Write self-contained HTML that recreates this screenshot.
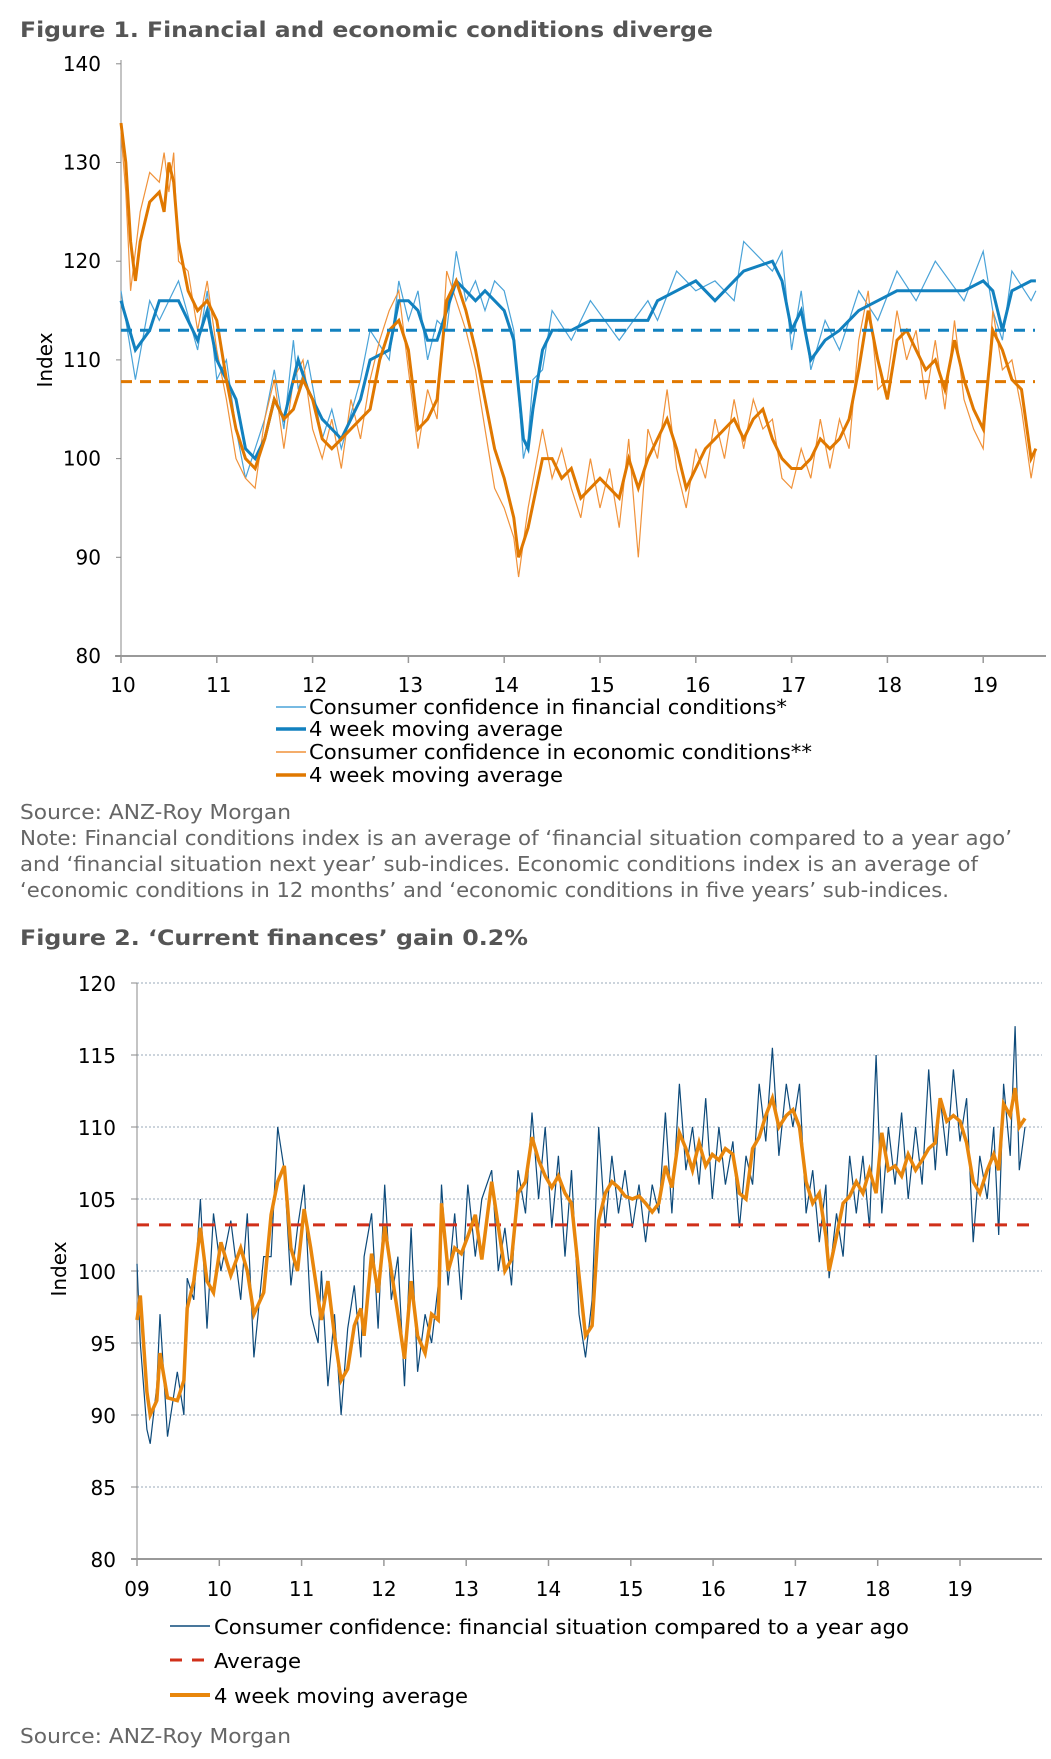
<!DOCTYPE html>
<html><head><meta charset="utf-8"><style>
html,body{margin:0;padding:0;background:#fff;}
svg{display:block;font-family:"DejaVu Sans","Liberation Sans",sans-serif;}
.t{font-weight:bold;fill:#555;font-size:21px;}
.tk{font-size:20px;fill:#000;}
.lg{font-size:20px;fill:#000;}
.src{font-size:20px;fill:#666;}
</style></head><body>
<svg id="page" width="1051" height="1759" viewBox="0 0 1051 1759" xmlns="http://www.w3.org/2000/svg">
<text class="t" x="20" y="37" textLength="693" lengthAdjust="spacingAndGlyphs">Figure 1. Financial and economic conditions diverge</text>
<g id="f1"></g>
<g>
<line x1="276" y1="707" x2="306" y2="707" stroke="#4aa3d8" stroke-width="1.5"/>
<text class="lg" x="309" y="714" textLength="478" lengthAdjust="spacingAndGlyphs">Consumer confidence in financial conditions*</text>
<line x1="276" y1="729" x2="306" y2="729" stroke="#1281bf" stroke-width="3.5"/>
<text class="lg" x="309" y="736" textLength="254" lengthAdjust="spacingAndGlyphs">4 week moving average</text>
<line x1="276" y1="752" x2="306" y2="752" stroke="#f0923a" stroke-width="1.5"/>
<text class="lg" x="309" y="759" textLength="503" lengthAdjust="spacingAndGlyphs">Consumer confidence in economic conditions**</text>
<line x1="276" y1="775" x2="306" y2="775" stroke="#e07800" stroke-width="3.5"/>
<text class="lg" x="309" y="782" textLength="254" lengthAdjust="spacingAndGlyphs">4 week moving average</text>
</g>
<text class="src" x="20" y="819" textLength="271" lengthAdjust="spacingAndGlyphs">Source: ANZ-Roy Morgan</text>
<text class="src" x="20" y="845" textLength="992" lengthAdjust="spacingAndGlyphs">Note: Financial conditions index is an average of ‘financial situation compared to a year ago’</text>
<text class="src" x="20" y="871" textLength="958" lengthAdjust="spacingAndGlyphs">and ‘financial situation next year’ sub-indices. Economic conditions index is an average of</text>
<text class="src" x="20" y="897" textLength="929" lengthAdjust="spacingAndGlyphs">‘economic conditions in 12 months’ and ‘economic conditions in five years’ sub-indices.</text>

<text class="t" x="20" y="945" textLength="508" lengthAdjust="spacingAndGlyphs">Figure 2. ‘Current finances’ gain 0.2%</text>
<g id="f2"></g>
<g>
<line x1="170" y1="1626" x2="210" y2="1626" stroke="#0d4a7a" stroke-width="1.5"/>
<text class="lg" x="214" y="1634" textLength="695" lengthAdjust="spacingAndGlyphs">Consumer confidence: financial situation compared to a year ago</text>
<line x1="170" y1="1660" x2="210" y2="1660" stroke="#d0301a" stroke-width="3" stroke-dasharray="12,10"/>
<text class="lg" x="214" y="1668" textLength="87" lengthAdjust="spacingAndGlyphs">Average</text>
<line x1="170" y1="1695" x2="210" y2="1695" stroke="#e8860c" stroke-width="4"/>
<text class="lg" x="214" y="1703" textLength="254" lengthAdjust="spacingAndGlyphs">4 week moving average</text>
</g>
<text class="src" x="20" y="1743" textLength="271" lengthAdjust="spacingAndGlyphs">Source: ANZ-Roy Morgan</text>
</svg>
<script>
// ---- Figure 1 data ----
const f1Years = [10,11,12,13,14,15,16,17,18,19];
const f1YTicks = [80,90,100,110,120,130,140];
const finDates = [10.0,10.15,10.3,10.4,10.6,10.8,10.9,11.0,11.1,11.2,11.3,11.4,11.5,11.6,11.7,11.8,11.85,11.95,12.1,12.2,12.3,12.5,12.6,12.8,12.9,13.0,13.1,13.2,13.3,13.4,13.5,13.6,13.7,13.8,13.9,14.0,14.1,14.2,14.25,14.3,14.4,14.5,14.7,14.9,15.2,15.5,15.6,15.8,16.0,16.2,16.4,16.5,16.8,16.9,17.0,17.1,17.2,17.35,17.5,17.7,17.9,18.1,18.3,18.5,18.8,19.0,19.1,19.2,19.3,19.5,19.55];
const finMA = [116,111,113,116,116,112,115,110,108,106,101,100,102,106,104,108,110,107,104,103,102,106,110,111,116,116,115,112,112,115,118,117,116,117,116,115,112,102,101,105,111,113,113,114,114,114,116,117,118,116,118,119,120,118,113,115,110,112,113,115,116,117,117,117,117,118,117,113,117,118,118];
const finRaw = [117,108,116,114,118,111,117,108,110,103,98,101,104,109,103,112,107,110,102,105,101,108,113,110,118,114,117,110,114,113,121,116,118,115,118,117,113,100,102,108,109,115,112,116,112,116,114,119,117,118,116,122,119,121,111,117,109,114,111,117,114,119,116,120,116,121,115,112,119,116,117];
const ecoDates = [10.0,10.05,10.1,10.15,10.2,10.3,10.4,10.45,10.5,10.55,10.6,10.7,10.8,10.9,11.0,11.1,11.2,11.3,11.4,11.5,11.6,11.7,11.8,11.9,12.0,12.1,12.2,12.3,12.4,12.5,12.6,12.7,12.8,12.9,13.0,13.1,13.2,13.3,13.4,13.5,13.6,13.7,13.8,13.9,14.0,14.1,14.15,14.25,14.4,14.5,14.6,14.7,14.8,14.9,15.0,15.1,15.2,15.3,15.4,15.5,15.6,15.7,15.8,15.9,16.0,16.1,16.2,16.3,16.4,16.5,16.6,16.7,16.8,16.9,17.0,17.1,17.2,17.3,17.4,17.5,17.6,17.7,17.8,17.9,18.0,18.1,18.2,18.3,18.4,18.5,18.6,18.7,18.8,18.9,19.0,19.1,19.2,19.3,19.4,19.5,19.55];
const ecoMA = [134,130,122,118,122,126,127,125,130,128,122,117,115,116,114,108,103,100,99,102,106,104,105,108,106,102,101,102,103,104,105,110,113,114,111,103,104,106,116,118,115,111,106,101,98,94,90,93,100,100,98,99,96,97,98,97,96,100,97,100,102,104,101,97,99,101,102,103,104,102,104,105,102,100,99,99,100,102,101,102,104,109,115,110,106,112,113,111,109,110,107,112,108,105,103,113,111,108,107,100,101];
const ecoRaw = [133,127,117,121,125,129,128,131,127,131,120,119,113,118,111,106,100,98,97,104,108,101,108,110,103,100,104,99,106,102,108,112,115,117,109,101,107,104,119,116,113,109,103,97,95,92,88,95,103,98,101,97,94,100,95,99,93,102,90,103,100,107,99,95,101,98,104,100,106,101,106,103,104,98,97,101,98,104,99,104,101,112,117,107,108,115,110,113,106,112,105,114,106,103,101,115,109,110,105,98,101];
const finAvg = [113];
const ecoAvg = [107.8];

// ---- Figure 2 data ----
const f2Years = ["09","10","11","12","13","14","15","16","17","18","19"];
const f2YTicks = [80,85,90,95,100,105,110,115,120];
const curDates = [9.00,9.04,9.12,9.16,9.24,9.28,9.37,9.49,9.57,9.61,9.69,9.77,9.85,9.93,10.02,10.14,10.26,10.34,10.42,10.54,10.63,10.71,10.79,10.87,10.95,11.03,11.11,11.20,11.24,11.32,11.40,11.48,11.56,11.64,11.72,11.76,11.85,11.93,12.01,12.09,12.17,12.25,12.33,12.41,12.50,12.58,12.66,12.70,12.78,12.86,12.94,13.02,13.11,13.19,13.31,13.39,13.47,13.55,13.63,13.72,13.80,13.88,13.96,14.04,14.12,14.20,14.28,14.37,14.45,14.53,14.61,14.69,14.77,14.85,14.93,15.02,15.10,15.18,15.26,15.34,15.42,15.50,15.59,15.67,15.75,15.83,15.91,15.99,16.07,16.15,16.24,16.32,16.40,16.48,16.56,16.64,16.72,16.80,16.89,16.97,17.05,17.13,17.21,17.29,17.37,17.41,17.50,17.58,17.66,17.74,17.82,17.90,17.98,18.05,18.13,18.21,18.29,18.37,18.46,18.54,18.62,18.70,18.76,18.84,18.92,19.00,19.08,19.16,19.24,19.33,19.41,19.47,19.53,19.61,19.67,19.72,19.79];
const curMA = [96.6,98.3,91.6,90,91,94.3,91.2,91,92.4,97.4,99.3,103,99.3,98.5,102,99.7,101.6,100,97,98.5,103.9,106.2,107.3,101.6,100,104.3,101.6,98.1,96.6,99.3,95.5,92.4,93.2,96.2,97.4,95.5,101.2,98.5,103.1,100,97,93.9,99.3,95.5,94.3,97,96.6,104.7,100,101.6,101.2,102.4,103.9,100.8,106.2,103.1,100,100.8,105.4,106.2,109.3,107.7,106.6,105.8,106.6,105.4,104.7,99.7,95.5,96.2,103.5,105.4,106.2,105.8,105.2,105,105.2,104.7,104.1,104.7,107.3,105.8,109.6,108.5,107,108.9,107.3,108.1,107.7,108.5,108.1,105.4,105,108.5,109.3,110.8,112,110,110.8,111.2,110,106.2,104.7,105.4,102.4,100,102.4,104.7,105.2,106.2,105.4,107,105.4,109.6,107,107.3,106.6,108.1,107,107.7,108.5,108.9,112,110.4,110.8,110.4,108.9,106.2,105.4,107,108.1,107,111.6,110.8,112.7,110,110.6];
const curRaw = [100.5,95,89,88,92,97,88.5,93,90,99.5,98,105,96,104,100,103.5,98,104,94,101,101,110,107,99,103,106,97,95,100,92,97,90,96,99,94,101,104,96,106,98,101,92,103,93,97,95,99,106,99,104,98,106,101,105,107,100,103,99,107,104,111,105,110,103,108,101,107,97,94,98,110,103,108,104,107,103,106,102,106,104,111,104,113,107,110,106,112,105,110,106,109,103,108,106,113,109,115.5,108,113,110,113,104,107,102,106,99.5,104,101,108,104,108,103,115,104,110,106,111,105,110,106,114,107,112,108,114,109,112,102,108,105,110,102.5,113,108,117,107,110];
const curAvg = [103.2];

const NS="http://www.w3.org/2000/svg";
function mk(parent,tag,attrs){const e=document.createElementNS(NS,tag);for(const k in attrs)e.setAttribute(k,attrs[k]);parent.appendChild(e);return e;}
function pathD(dates,vals,X,Y){let d="";const n=Math.min(dates.length,vals.length);for(let i=0;i<n;i++)d+=(i?"L":"M")+X(dates[i]).toFixed(1)+","+Y(vals[i]).toFixed(1);return d;}

// Figure 1
(function(){
const g=document.getElementById('f1');
const X=d=>121+(d-10)*95.8, Y=v=>656-(v-80)*9.87;
const ax=mk(g,'line',{x1:121,y1:60,x2:121,y2:656,stroke:'#888','stroke-width':1});

const bx=mk(g,'line',{x1:115,y1:656,x2:1046,y2:656,stroke:'#999','stroke-width':2});

f1YTicks.forEach(v=>{mk(g,'line',{x1:116,y1:Y(v),x2:121,y2:Y(v),stroke:'#888'});
const t=mk(g,'text',{x:101,y:Y(v)+7,'text-anchor':'end','class':'tk'});t.textContent=v;
});
f1Years.forEach(y=>{mk(g,'line',{x1:X(y),y1:656,x2:X(y),y2:663,stroke:'#999','stroke-width':1.5});
const t=mk(g,'text',{x:X(y)+2,y:692,'text-anchor':'middle','class':'tk'});t.textContent=y;
});
const it=mk(g,'text',{x:0,y:0,transform:'translate(52,360) rotate(-90)','text-anchor':'middle','class':'tk'});it.textContent='Index';

const p1=mk(g,'path',{d:pathD(finDates,finRaw,X,Y),fill:'none',stroke:'#4aa3d8','stroke-width':1.2});

const p3=mk(g,'path',{d:pathD(ecoDates,ecoRaw,X,Y),fill:'none',stroke:'#f0923a','stroke-width':1.2});

const p2=mk(g,'path',{d:pathD(finDates,finMA,X,Y),fill:'none',stroke:'#1281bf','stroke-width':3});

const p4=mk(g,'path',{d:pathD(ecoDates,ecoMA,X,Y),fill:'none',stroke:'#e07800','stroke-width':3});

const a1=mk(g,'line',{x1:121,y1:Y(finAvg[0]),x2:1035,y2:Y(finAvg[0]),stroke:'#1281bf','stroke-width':3,'stroke-dasharray':'11,8'});

const a2=mk(g,'line',{x1:121,y1:Y(ecoAvg[0]),x2:1035,y2:Y(ecoAvg[0]),stroke:'#e07800','stroke-width':3,'stroke-dasharray':'11,8'});

})();

// Figure 2
(function(){
const g=document.getElementById('f2');
const X=d=>137+(d-9)*82.3, Y=v=>1559-(v-80)*14.4;
f2YTicks.forEach(v=>{if(v>80){const gl=mk(g,'line',{x1:137,y1:Y(v),x2:1042,y2:Y(v),stroke:'#9aa8b8','stroke-width':1,'stroke-dasharray':'2,2'});
}
mk(g,'line',{x1:131,y1:Y(v),x2:137,y2:Y(v),stroke:'#888'});
const t=mk(g,'text',{x:116,y:Y(v)+8,'text-anchor':'end','class':'tk'});t.textContent=v;
});
const ax=mk(g,'line',{x1:137,y1:983,x2:137,y2:1559,stroke:'#888','stroke-width':1});

const bx=mk(g,'line',{x1:131,y1:1559,x2:1042,y2:1559,stroke:'#999','stroke-width':2});

f2Years.forEach((y,i)=>{const x=X(9+i);mk(g,'line',{x1:x,y1:1559,x2:x,y2:1566,stroke:'#999','stroke-width':1.5});
const t=mk(g,'text',{x:x,y:1596,'text-anchor':'middle','class':'tk'});t.textContent=y;
});
const it=mk(g,'text',{x:0,y:0,transform:'translate(66,1269) rotate(-90)','text-anchor':'middle','class':'tk'});it.textContent='Index';

const p1=mk(g,'path',{d:pathD(curDates,curRaw,X,Y),fill:'none',stroke:'#0d4a7a','stroke-width':1.2});

const a=mk(g,'line',{x1:137,y1:Y(curAvg[0]),x2:1030,y2:Y(curAvg[0]),stroke:'#d0301a','stroke-width':3,'stroke-dasharray':'12,10'});

const p2=mk(g,'path',{d:pathD(curDates,curMA,X,Y),fill:'none',stroke:'#e8860c','stroke-width':3.5});

})();
</script>
</body></html>
